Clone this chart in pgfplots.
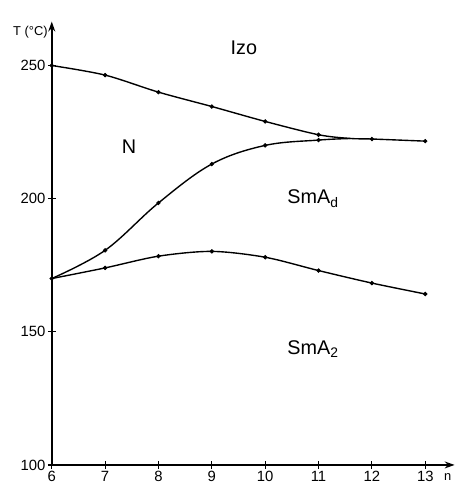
\documentclass[border=0pt]{standalone}
\usepackage{fontspec}
\setmainfont{Liberation Sans}
\usepackage{pgfplots}
\pgfplotsset{compat=1.18}
\usetikzlibrary{arrows.meta}
\begin{document}
\begin{tikzpicture}
\begin{axis}[
  x=26.85bp, y=1.34bp,
  xmin=6, xmax=13.55, ymin=100, ymax=266.5,
  axis lines=left,
  axis line style={line width=0.9pt, -{Stealth[length=5pt,width=3.5pt]}},
  xtick={6,...,13}, ytick={100,150,200,250},
  tick align=center, major tick length=4bp,
  tick style={black, line width=0.6pt},
  tick label style={font=\fontsize{7.5}{8}\selectfont},
  xticklabel style={inner sep=1pt},
  yticklabel style={inner sep=1pt},
  /pgf/number format/assume math mode=true,
  clip=false,
  enlargelimits=false,
]
% upper curve (N / Izo, then SmAd / Izo)
\addplot[black, line width=0.7pt, smooth, tension=0.5, no marks] coordinates {
 (6,250) (7,246.4) (8,240) (9,234.6) (10,229) (11,224) (11.6,222.6) (12,222.4) (13,221.6)};
% middle curve (N / SmAd)
\addplot[black, line width=0.7pt, smooth, tension=0.6, no marks] coordinates {
 (6,170) (7,180.6) (8,198.4) (9,213) (10,220) (11,222) (11.6,222.6)};
% lower curve (SmA2 / SmAd)
\addplot[black, line width=0.7pt, smooth, tension=0.5, no marks] coordinates {
 (6,170) (7,174) (8,178.4) (9,180.2) (10,178) (11,173) (12,168.3) (13,164.2)};
% measured points
\addplot[only marks, mark=*, mark size=0.9pt, black] coordinates {
 (6,250) (7,246.4) (8,240) (9,234.6) (10,229) (11,224) (12,222.4) (13,221.6)
 (6,170) (7,180.6) (8,198.4) (9,213) (10,220) (11,222)
 (7,174) (8,178.4) (9,180.2) (10,178) (11,173) (12,168.3) (13,164.2)};
\node[font=\fontsize{10}{12}\selectfont] at (axis cs:9.6,256.5) {Izo};
\node[font=\fontsize{10}{12}\selectfont] at (axis cs:7.45,219.5) {N};
\node[font=\fontsize{10}{12}\selectfont] at (axis cs:10.9,200) {SmA\textsubscript{d}};
\node[font=\fontsize{10}{12}\selectfont] at (axis cs:10.9,143.5) {SmA\textsubscript{2}};
\node[font=\fontsize{6.5}{7}\selectfont] at (axis cs:5.6,262.5) {T (°C)};
\node[font=\fontsize{6.5}{7}\selectfont] at (axis cs:13.42,95.5) {n};
\path (axis cs:5.03,274.6) (axis cs:13.58,93.6);
\end{axis}
\end{tikzpicture}
\end{document}
